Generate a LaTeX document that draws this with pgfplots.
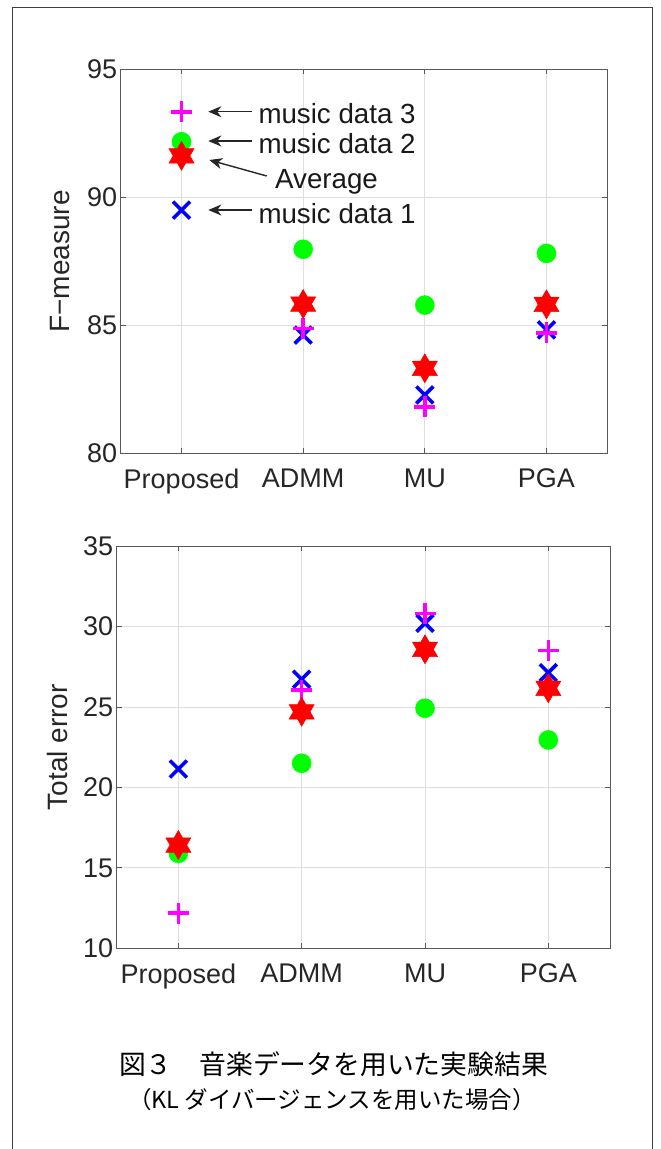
\documentclass[border=0pt]{standalone}
\usepackage{fontspec}
\setmainfont{Liberation Sans}
\newfontfamily\jpfont{Noto Sans CJK JP}
\usepackage{pgfplots}
\pgfplotsset{compat=1.18}
\usetikzlibrary{arrows.meta}

\definecolor{mblue}{RGB}{0,0,255}
\definecolor{mgreen}{RGB}{0,255,0}
\definecolor{mmag}{RGB}{255,0,255}
\definecolor{mred}{RGB}{255,0,0}

\pgfdeclareplotmark{hexagram}{%
  \pgfpathmoveto{\pgfpointpolar{90}{1\pgfplotmarksize}}%
  \pgfpathlineto{\pgfpointpolar{120}{0.57735\pgfplotmarksize}}%
  \pgfpathlineto{\pgfpointpolar{150}{1\pgfplotmarksize}}%
  \pgfpathlineto{\pgfpointpolar{180}{0.57735\pgfplotmarksize}}%
  \pgfpathlineto{\pgfpointpolar{210}{1\pgfplotmarksize}}%
  \pgfpathlineto{\pgfpointpolar{240}{0.57735\pgfplotmarksize}}%
  \pgfpathlineto{\pgfpointpolar{270}{1\pgfplotmarksize}}%
  \pgfpathlineto{\pgfpointpolar{300}{0.57735\pgfplotmarksize}}%
  \pgfpathlineto{\pgfpointpolar{330}{1\pgfplotmarksize}}%
  \pgfpathlineto{\pgfpointpolar{0}{0.57735\pgfplotmarksize}}%
  \pgfpathlineto{\pgfpointpolar{30}{1\pgfplotmarksize}}%
  \pgfpathlineto{\pgfpointpolar{60}{0.57735\pgfplotmarksize}}%
  \pgfpathclose
  \pgfusepathqfillstroke
}

\pgfplotsset{
  myax/.style={
    scale only axis,
    xmin=0.5, xmax=4.5,
    xtick={1,2,3,4},
    xticklabels={Proposed,ADMM,MU,PGA},
    grid=major,
    grid style={line width=0.8pt, color=black!13},
    axis line style={line width=1pt, color=black!65},
    major tick style={line width=0.8pt, color=black!65},
    major tick length=5pt,
    tick align=inside,
    tick label style={font=\fontsize{27}{32}\selectfont, color=black!85},
    xticklabel style={yshift=-12pt},
    label style={font=\fontsize{28}{33}\selectfont, color=black!85},
    /pgf/number format/assume math mode=true,
    clip=false,
    every axis plot/.append style={only marks},
  },
  d1/.style={mark=x, color=mblue, mark size=12pt, line width=3.6pt},
  d2/.style={mark=*, color=mgreen, mark size=9.5pt, line width=0.5pt},
  d3/.style={mark=+, color=mmag, mark size=10.5pt, line width=3.6pt},
  av/.style={mark=hexagram, color=mred, mark size=14.5pt, line width=0.5pt},
}

\begin{document}
\begin{tikzpicture}[x=1pt,y=1pt]
\path[use as bounding box] (0,0) rectangle (661,-1149);

% top axis: F-measure
\begin{axis}[myax,
  at={(120.7pt,-453.3pt)}, anchor=south west,
  width=486.6pt, height=384pt,
  ymin=80, ymax=95, ytick={80,85,90,95},
  ylabel={F−measure},
  ylabel style={at={(axis description cs:-0.1247,0.5)}, anchor=center},
]
\addplot[d1] coordinates {(1,89.50) (2,84.62) (3,82.28) (4,84.82)};
\addplot[d2] coordinates {(1,92.17) (2,87.97) (3,85.79) (4,87.81)};
\addplot[d3] coordinates {(1,93.34) (2,84.88) (3,81.82) (4,84.71)};
\addplot[av] coordinates {(1,91.62) (2,85.83) (3,83.32) (4,85.82)};
\end{axis}

% bottom axis: Total error
\begin{axis}[myax,
  at={(116.7pt,-948.3pt)}, anchor=south west,
  width=493.3pt, height=402.3pt,
  ymin=10, ymax=35, ytick={10,15,20,25,30,35},
  ylabel={Total error},
  ylabel style={at={(axis description cs:-0.121,0.5)}, anchor=center},
]
\addplot[d1] coordinates {(1,21.14) (2,26.72) (3,30.20) (4,27.13)};
\addplot[d2] coordinates {(1,15.90) (2,21.50) (3,24.92) (4,22.95)};
\addplot[d3] coordinates {(1,12.18) (2,26.05) (3,30.80) (4,28.50)};
\addplot[av] coordinates {(1,16.42) (2,24.70) (3,28.58) (4,26.16)};
\end{axis}

% annotations
\begin{scope}[font=\fontsize{27.7}{33}\selectfont]
\tikzset{arr/.style={-{Stealth[length=13pt,width=11pt,inset=4pt]}, line width=1.4pt, black!85}}
\draw[arr] (251.7,-111.7) -- (208.3,-111.7);
\draw[arr] (251.7,-141) -- (208.3,-141);
\draw[arr] (266.7,-176) -- (209.3,-160);
\draw[arr] (251.7,-210) -- (208.3,-210);
\node[anchor=base west, inner sep=0pt, text=black!90] at (258.3,-123.3) {music data 3};
\node[anchor=base west, inner sep=0pt, text=black!90] at (258.3,-153.3) {music data 2};
\node[anchor=base west, inner sep=0pt, text=black!90] at (275,-188.3) {Average};
\node[anchor=base west, inner sep=0pt, text=black!90] at (258.3,-223.3) {music data 1};
\end{scope}

% caption
\node[anchor=base, inner sep=0pt, font=\jpfont\fontsize{26.8}{30}\selectfont] at (333.5,-1074) {図３　音楽データを用いた実験結果};
\node[anchor=base, inner sep=0pt, font=\jpfont\fontsize{23.5}{27}\selectfont] at (332,-1108.4) {（KL ダイバージェンスを用いた場合）};

% outer frame
\draw[black!75, line width=1.5pt] (12.7,-1170) -- (12.7,-7.6) -- (652.7,-7.6) -- (652.7,-1170);
\end{tikzpicture}
\end{document}
